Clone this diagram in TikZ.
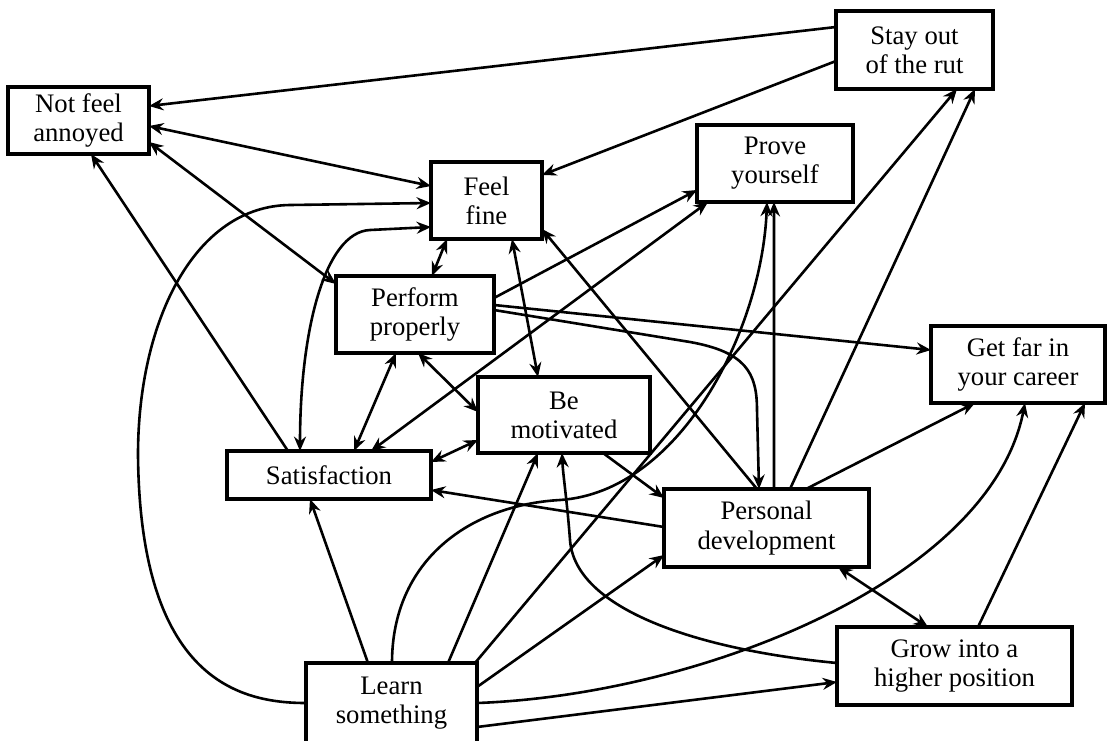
\documentclass[tikz,border=0pt]{standalone}
\usepackage{fontspec}
\setmainfont{Liberation Serif}
\usetikzlibrary{calc,arrows.meta}
\begin{document}
\begin{tikzpicture}[x=0.25mm,y=-0.25mm,
  box/.style={draw, line width=0.8mm, align=center, inner sep=0pt, outer sep=0pt,
    font=\fontsize{19}{20.8}\selectfont},
  tip/.tip={Stealth[length=3.6mm,width=3mm,inset=1.2mm]},
  link/.style={line width=0.65mm, -tip},
  both/.style={line width=0.65mm, tip-tip}
]
\useasboundingbox (0,0) rectangle (1108,740);

% boxes
\node[box, minimum width=35.25mm, minimum height=16.75mm] (nfa)    at (78.5,120.5) {Not feel\\annoyed};
\node[box, minimum width=39.25mm, minimum height=19.5mm]  (stay)   at (914.5,50)   {Stay out\\of the rut};
\node[box, minimum width=39mm,    minimum height=19.25mm] (prove)  at (775,163.5)  {Prove\\yourself};
\node[box, minimum width=27.75mm, minimum height=19.25mm] (feel)   at (486.5,200.5){Feel\\fine};
\node[box, minimum width=39.5mm,  minimum height=19.25mm] (perf)   at (415,314.5)  {Perform\\properly};
\node[box, minimum width=43mm,    minimum height=19mm]    (motiv)  at (564,415)    {Be\\motivated};
\node[box, minimum width=43.5mm,  minimum height=19.25mm] (getfar) at (1018,364.5) {Get far in\\your career};
\node[box, minimum width=51mm,    minimum height=12mm]    (sat)    at (329,475)    {Satisfaction};
\node[box, minimum width=51.25mm, minimum height=19.5mm]  (pers)   at (766.5,528)  {Personal\\development};
\node[box, minimum width=58.75mm, minimum height=19.5mm]  (grow)   at (954.5,666)  {Grow into a\\higher position};
\node[box, minimum width=42.75mm, minimum height=20mm]    (learn)  at (391.5,703)  {Learn\\something};

% connectors
\draw[link] ($(stay.north west)+(0,16)$) -- ($(nfa.north east)+(0,19)$);
\draw[link] ($(stay.north west)+(0,50)$) -- ($(feel.north east)+(0,13)$);
\draw[both] ($(nfa.north east)+(0,39)$) -- ($(feel.north west)+(0,24)$);
\draw[link] ($(sat.north west)+(61,0)$) -- ($(nfa.south west)+(83,0)$);
\draw[both] ($(nfa.north east)+(0,55)$) -- ($(perf.north west)+(0,8)$);
\draw[link] ($(learn.north west)+(0,40)$) .. controls (240,703) and (140,680) .. (138,455)
  .. controls (138,320) and (195,206) .. (290,205) -- ($(feel.north west)+(0,41)$);
\draw[both] ($(sat.north west)+(73,0)$) .. controls (300,330) and (325,232) .. (370,230)
  -- ($(feel.north west)+(0,65)$);
\draw[both] ($(feel.south west)+(16,0)$) -- ($(perf.north west)+(96,0)$);
\draw[both] ($(feel.south west)+(81,0)$) -- ($(motiv.north west)+(60,0)$);
\draw[link] ($(pers.north west)+(93,0)$) -- ($(feel.north east)+(0,67)$);
\draw[link] ($(perf.north east)+(0,22)$) -- ($(prove.south west)+(0,-12)$);
\draw[both] ($(sat.north west)+(144,0)$) -- ($(prove.south west)+(11,0)$);
\draw[both] ($(perf.south west)+(60,0)$) -- ($(sat.north west)+(127,0)$);
\draw[both] ($(perf.south west)+(82,0)$) -- ($(motiv.north west)+(0,35)$);
\draw[both] ($(sat.north east)+(0,11)$) -- ($(motiv.north west)+(0,63)$);
\draw[link] ($(perf.north east)+(0,29)$) -- ($(getfar.north west)+(0,24)$);
\draw[link] ($(perf.north east)+(0,34)$) -- (690,342) .. controls (745,352) and (757,372) .. (757,410)
  -- ($(pers.north west)+(95,0)$);
\draw[link] ($(motiv.south west)+(125,0)$) -- ($(pers.north west)+(0,9)$);
\draw[link] ($(pers.north west)+(0,38)$) -- ($(sat.north east)+(0,39)$);
\draw[link] ($(pers.north west)+(110,0)$) -- ($(prove.south west)+(77,0)$);
\draw[link] ($(learn.north west)+(86,0)$) .. controls (392,560) and (470,505) .. (560,500)
  .. controls (680,492) and (762,330) .. ($(prove.south west)+(70,0)$);
\draw[link] ($(learn.north west)+(142,0)$) -- ($(motiv.south west)+(60,0)$);
\draw[link] ($(learn.north east)+(-2,0)$) -- ($(stay.south west)+(121,0)$);
\draw[link] ($(pers.north west)+(126,0)$) -- ($(stay.south west)+(139,0)$);
\draw[link] ($(pers.north west)+(142,0)$) -- ($(getfar.south west)+(44,0)$);
\draw[both] ($(pers.south west)+(174,0)$) -- ($(grow.north west)+(91,0)$);
\draw[link] ($(grow.north west)+(141,0)$) -- ($(getfar.south west)+(154,0)$);
\draw[link] ($(learn.north east)+(0,40)$) .. controls (700,695) and (990,580) .. ($(getfar.south west)+(94,0)$);
\draw[link] ($(learn.north east)+(0,64)$) -- ($(grow.north west)+(0,55)$);
\draw[link] ($(grow.north west)+(0,36)$) .. controls (700,650) and (575,610) .. (570,540)
  .. controls (567,500) and (563,475) .. ($(motiv.south west)+(84,0)$);
\draw[link] ($(learn.north west)+(62,0)$) -- ($(sat.south west)+(83,0)$);
\draw[link] ($(learn.north east)+(0,24)$) -- ($(pers.north west)+(0,66)$);
\end{tikzpicture}
\end{document}
